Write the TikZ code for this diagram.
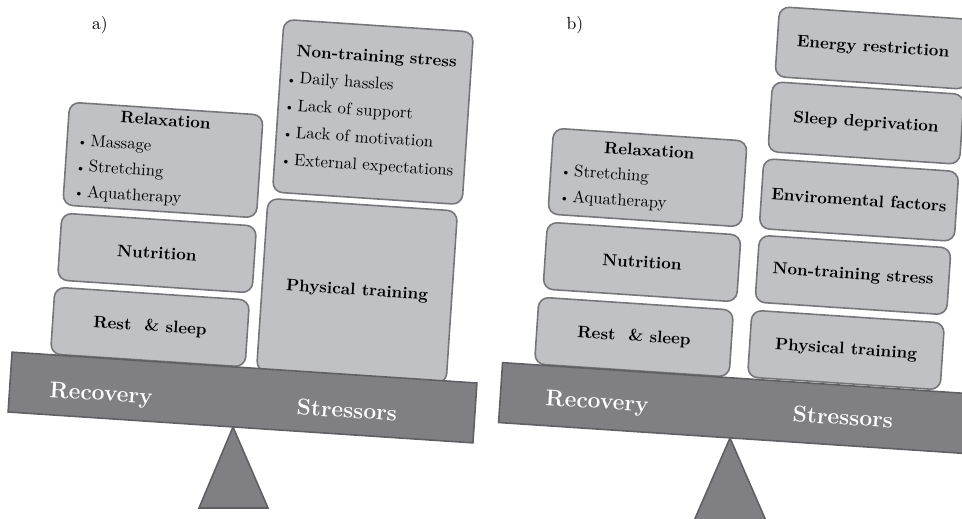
\documentclass[tikz,border=0pt]{standalone}
\usetikzlibrary{positioning}

\definecolor{blockfill}{RGB}{192,193,197}
\definecolor{blockline}{RGB}{118,118,122}
\definecolor{beamfill}{RGB}{128,128,132}
\definecolor{beamline}{RGB}{96,96,100}

\tikzset{
  tilt/.style={rotate=-3.8},
  block/.style={tilt, draw=blockline, fill=blockfill, line width=0.9pt,
    rounded corners=0.2cm, inner xsep=0.2cm, inner ysep=0pt, align=center,
    font=\fontsize{9.5}{14.5}\selectfont},
  listblock/.style={block, align=left,
    execute at begin node=\setlength{\parindent}{0pt}},
  beam/.style={tilt, draw=beamline, fill=beamfill, line width=0.9pt,
    minimum width=9.32cm, minimum height=1.2cm},
  beamlabel/.style={tilt, text=white, font=\fontsize{13}{15}\selectfont\bfseries},
  pivot/.style={draw=beamline, fill=beamfill, line width=0.9pt},
  panel/.style={font=\fontsize{10}{12}\selectfont},
}

\newcommand{\itm}[1]{\mbox{{\scriptsize\textbullet}\,#1}}

\begin{document}
\begin{tikzpicture}[x=0.02cm, y=-0.02cm]
  \useasboundingbox (0,0) rectangle (962,518);
  \clip (0,0) rectangle (962,518);

  % a) balance
  \node[panel] (labA) at (100,25) {a)};
  \coordinate (apexA) at (233,427);
  \draw[pivot] (apexA) -- (268,508) -- (199,508) -- cycle;

  \node[listblock, minimum width=3.88cm, minimum height=2.06cm, text width=3.48cm]
    (relaxA) at (163,160)
    {{\centering\textbf{Relaxation}\par}\itm{Massage}\\ \itm{Stretching}\\ \itm{Aquatherapy}};
  \node[block, minimum width=3.9cm, minimum height=1.34cm] (nutrA) at (157,253) {\textbf{Nutrition}};
  \node[block, minimum width=3.9cm, minimum height=1.34cm] (restA) at (150,327) {\textbf{Rest \ \& sleep}};
  \node[listblock, minimum width=3.8cm, minimum height=3.46cm, text width=3.56cm,
    inner xsep=0.12cm, font=\fontsize{9.5}{15.5}\selectfont]
    (stressA) at (373,112)
    {{\centering\textbf{Non-training stress}\par}\itm{Daily hassles}\\ \itm{Lack of support}\\
     \itm{Lack of motivation}\\ \itm{External expectations}};
  \node[block, minimum width=3.8cm, minimum height=3.46cm] (trainA) at (357,291) {\textbf{Physical training}};

  \node[beam] (beamA) at (242.5,397.5) {};
  \node[beamlabel] (recA) at (101,395) {Recovery};
  \node[beamlabel] (strA) at (347,410) {Stressors};

  % b) balance
  \node[panel] (labB) at (575,25) {b)};
  \coordinate (apexB) at (730,438);
  \draw[pivot] (apexB) -- (770,530) -- (690,530) -- cycle;

  \node[listblock, minimum width=3.88cm, minimum height=1.72cm, text width=3.48cm]
    (relaxB) at (647.5,177.5)
    {{\centering\textbf{Relaxation}\par}\itm{Stretching}\\ \itm{Aquatherapy}};
  \node[block, minimum width=3.88cm, minimum height=1.34cm] (nutrB) at (642,262) {\textbf{Nutrition}};
  \node[block, minimum width=3.9cm, minimum height=1.34cm] (restB) at (634,337) {\textbf{Rest \ \& sleep}};

  \node[block, minimum width=3.84cm, minimum height=1.4cm] (energyB) at (873,48) {\textbf{Energy restriction}};
  \node[block, minimum width=3.84cm, minimum height=1.4cm] (sleepB) at (866,123) {\textbf{Sleep deprivation}};
  \node[block, minimum width=3.84cm, minimum height=1.4cm] (enviroB) at (859,200) {\textbf{Enviromental factors}};
  \node[block, minimum width=3.84cm, minimum height=1.34cm] (stressB) at (853,275) {\textbf{Non-training stress}};
  \node[block, minimum width=3.86cm, minimum height=1.34cm] (trainB) at (846,350) {\textbf{Physical training}};

  \node[beam] (beamB) at (733,408) {};
  \node[beamlabel] (recB) at (597,403) {Recovery};
  \node[beamlabel] (strB) at (843,417) {Stressors};
\end{tikzpicture}
\end{document}
